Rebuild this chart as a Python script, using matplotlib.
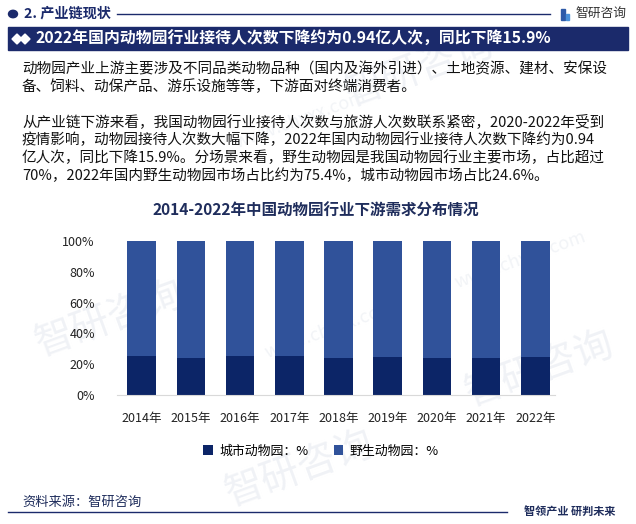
import matplotlib
matplotlib.use("Agg")
import matplotlib.pyplot as plt
from matplotlib.patches import Rectangle, Polygon, Circle
from matplotlib.lines import Line2D
import numpy as np

plt.rcParams['font.family'] = ['Noto Sans CJK SC', 'DejaVu Sans']

# Data
years = ['2014年', '2015年', '2016年', '2017年', '2018年', '2019年', '2020年', '2021年', '2022年']
city_share = [25.4, 24.1, 25.3, 25.3, 24.0, 24.7, 24.1, 24.1, 24.6]
wild_share = [74.6, 75.9, 74.7, 74.7, 76.0, 75.3, 75.9, 75.9, 75.4]
y_ticks = [0, 20, 40, 60, 80, 100]
series_names = ['城市动物园：%', '野生动物园：%']

section_title = '2. 产业链现状'
band_title = '2022年国内动物园行业接待人次数下降约为0.94亿人次，同比下降15.9%'
para1 = ['动物园产业上游主要涉及不同品类动物品种（国内及海外引进）、土地资源、建材、安保设',
         '备、饲料、动保产品、游乐设施等等，下游面对终端消费者。']
para2 = ['从产业链下游来看，我国动物园行业接待人次数与旅游人次数联系紧密，2020-2022年受到',
         '疫情影响，动物园接待人次数大幅下降，2022年国内动物园行业接待人次数下降约为0.94',
         '亿人次，同比下降15.9%。分场景来看，野生动物园是我国动物园行业主要市场，占比超过',
         '70%，2022年国内野生动物园市场占比约为75.4%，城市动物园市场占比24.6%。']
chart_title = '2014-2022年中国动物园行业下游需求分布情况'
source_text = '资料来源：智研咨询'
slogan = '智领产业 研判未来'

NAVY = '#1b2a6b'
DARK = '#0c2567'
BLUE = '#30529a'
W, H = 636, 524

fig = plt.figure(figsize=(W / 100, H / 100), dpi=100)


def px(x, y):
    return x / W, 1 - y / H


# faint watermarks, kept behind everything
for (wx, wy) in [(110, 320), (420, 70), (540, 370), (300, 470)]:
    fig.text(*px(wx, wy), '智研咨询', fontsize=28, color='#f0f2f6', rotation=20,
             ha='center', va='center', zorder=-5)
for (wx, wy) in [(300, 120), (520, 260), (330, 330)]:
    fig.text(*px(wx, wy), 'www.chyxx.com', fontsize=13, color='#f2f4f7', rotation=20,
             ha='center', va='center', zorder=-5)

# header
fig.patches.append(Circle(px(13, 14), 4.5 / W, transform=fig.transFigure,
                          color=NAVY, zorder=2))
fig.text(*px(24, 14), section_title, fontsize=10.2, fontweight='bold', color=NAVY,
         ha='left', va='center')
fig.lines.append(Line2D([117 / W, 550 / W], [1 - 14 / H] * 2, transform=fig.transFigure,
                        color=NAVY, lw=1))
# logo
fig.patches.append(Rectangle(px(561, 20), 4 / W, 11 / H, transform=fig.transFigure,
                             color='#2e5aa8'))
fig.patches.append(Rectangle(px(566, 20), 3 / W, 6 / H, transform=fig.transFigure,
                             color='#4a90d9'))
fig.text(*px(576, 14), '智研咨询', fontsize=9.2, color='#333333', ha='left', va='center')

# title band
fig.patches.append(Rectangle(px(8, 50), 620 / W, 23 / H, transform=fig.transFigure,
                             color=NAVY, zorder=1))
for cx in (17, 25):
    pts = [px(cx - 5, 39), px(cx, 34), px(cx + 5, 39), px(cx, 44)]
    fig.patches.append(Polygon(pts, closed=True, transform=fig.transFigure,
                               color='white', zorder=2))
fig.text(*px(35, 39), band_title, fontsize=11.4, fontweight='bold', color='white',
         ha='left', va='center', zorder=3)

# paragraphs
for i, line in enumerate(para1):
    fig.text(*px(22, 69 + i * 18), line, fontsize=10.5, color='#111111', ha='left', va='center')
for i, line in enumerate(para2):
    fig.text(*px(22, 122 + i * 18), line, fontsize=10.5, color='#111111', ha='left', va='center')

# chart title
fig.text(*px(316, 211), chart_title, fontsize=11.2, fontweight='bold', color='#1f2d5c',
         ha='center', va='center')

# chart
ax = fig.add_axes([117 / W, 1 - 395 / H, 438 / W, 154 / H])
x = np.arange(len(years))
ax.bar(x, np.array(city_share) / 100, width=0.58, color=DARK, label=series_names[0], zorder=2)
ax.bar(x, np.array(wild_share) / 100, width=0.58, bottom=np.array(city_share) / 100,
       color=BLUE, label=series_names[1], zorder=2)
ax.set_xlim(-0.5, 8.4)
ax.set_ylim(0, 1)
ax.set_yticks(np.array(y_ticks) / 100)
ax.set_yticklabels([f'{t}%' for t in y_ticks])
ax.set_xticks(x)
ax.set_xticklabels(years)
ax.tick_params(axis='y', length=0, pad=16, labelsize=9, labelcolor='#222222')
ax.tick_params(axis='x', length=0, pad=12, labelsize=9, labelcolor='#222222')
for s in ('top', 'right', 'left'):
    ax.spines[s].set_visible(False)
ax.spines['bottom'].set_color('#d9d9d9')
ax.patch.set_alpha(0)

fig.legend(loc='center', bbox_to_anchor=px(321, 451), ncol=2, frameon=False,
           fontsize=9.3, handlelength=0.7, handleheight=0.7, columnspacing=2.0,
           handletextpad=0.5)

# footer
fig.text(*px(22, 502), source_text, fontsize=9.5, color='#1f2d5c', ha='left', va='center')
fig.lines.append(Line2D([8 / W, 507 / W], [1 - 512 / H] * 2, transform=fig.transFigure,
                        color=NAVY, lw=1))
fig.text(*px(524, 511), slogan, fontsize=8, fontweight='bold', color='#1f2d5c',
         ha='left', va='center')

fig.savefig('out.png', dpi=100)
